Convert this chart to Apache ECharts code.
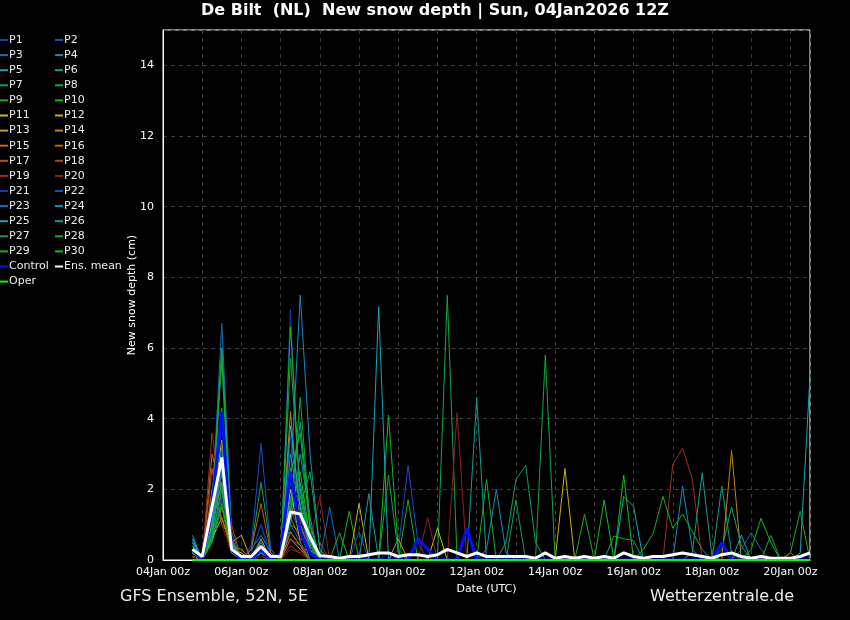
<!DOCTYPE html>
<html>
<head>
<meta charset="utf-8">
<script src="https://cdn.jsdelivr.net/npm/echarts@6/dist/echarts.min.js"></script>
<style>
  html, body { margin: 0; padding: 0; background: #000; }
  #main { width: 850px; height: 620px; }
</style>
</head>
<body>
<div id="main"></div>
<script>
// run 04Jan2026 12z, first step 04Jan 18z, 6-hourly up to 20Jan 12z (hours after 04Jan 00z)
const firstHour = 18
const stepHours = 6

// new snow depth (cm) per 6h step, 64 steps
const P1  = [0.2,0,0.8,2.4,0.3,0,0.2,1.0, 0.2,0,7.1,1.2,0.3,0,0,0, 0,0,0,0,0.2,0,0,0, 0,0,0,0,0,0,0,0, 0,0,0,0,0,0,0,0, 0,0,0,0,0,0,0,0, 0,0,0,0,0,0,0,0, 0,0,0,0,0,0,0,0]
const P2  = [0.3,0,0.5,1.8,0.2,0,0.1,0.6, 0,0,2.0,1.0,0.2,0,0,0, 0,0,0,0,0,0.3,2.68,0.5, 0,0,0,0,0,0,0,0, 0,0,0,0,0,0,0,0, 0,0,0,0,0,0,0,0, 0,0,0,0,0,0,0,0, 0,0,0,0,0,0,0,0]
const P3  = [0.4,0,1.5,6.7,0.8,0,0,0.4, 0,0,1.5,2.0,0.4,0,0,0, 0,0.2,0,0,0,0,0,0, 0,0,0,0,0,0,0,0, 0,0,0,0,0,0,0,0, 0,0,0,0,0,0,0,0, 0,0,0,0,0,0,0,0, 0,0,0,0,0,0,0,0]
const P4  = [0.7,0,0.6,2.0,0.3,0,0.3,0.7, 0.2,0,1.0,3.0,1.2,0,0,0, 0,0,0,0,0,0,0,0, 0,0,0,0,0,0,0.3,2.0, 0.2,0,0,0,0,0,0,0, 0,0,0,0,0,0,0,0, 0,0,0,0,0,0,0,0, 0,0,0,0,0,0,0,0]
const P5  = [0.5,0,1.0,6.0,0.6,0,0,0.3, 0,0,3.0,1.5,0.2,0,0,0, 0,0,0,0,0,0,0,0, 0,0,0,0,0,0,0,0, 0,0,0,0,0,0,0,0, 0,0,0,0,0,0,0,0, 0,0,0,0,0,0,0,0, 0.7,0,0,0,0,0,0,0]
const P6  = [0.6,0,0.8,3.0,0.4,0,0,0.5, 0,0,1.8,2.2,0.5,0,0,0, 0,0,0,0,0,0,0,0, 0,0,0,0,0,0,0,0, 0,0,0,0,0,0,0,0, 0,0,0,0,0,0,0,0, 0,0,0,0,0,0,2.09,0.2, 0,0,0,0,0,0,0,0]
const P7  = [0.4,0,1.2,6.0,0.5,0,0,0.3, 0,0,2.6,1.6,0.3,0,0,0, 0,0,0,0,0,0,0,0, 0,0,0,0,0,0,0,0, 0,1.7,0,0,0,0,0,0, 0,0,0,0.68,0.6,0.55,0,0, 0,0,0,0,0,0,0,0, 0,0,0,0,0,0,0,0]
const P8  = [0.3,0,1.0,2.5,0.6,0,0.3,2.2, 0.3,0,1.2,4.6,1.0,0,0,0, 0,0,0,0,0,0,0,0, 0,0,7.49,0,0,0,0,0, 0,0,0,0,0,0,0,0, 0,0,0,0,0,0,0,0, 0,0,0,0,0,0,0,0, 0,0,0,0,0,0,0,0]
const P9  = [0.2,0,1.8,5.6,0.4,0,0,0.3, 0,0,1.0,0.8,0,0,0,0, 1.38,0,0,0,0,0,1.7,0, 0,0,0,0,0,0,0,0, 0,0,0,0,0,0,0,0, 1.3,0,0,0,0,0,0,0, 0,0,0,0,0,0,0,0, 0,0,0,0,0,0.2,1.38,0]
const P10 = [0.1,0,0.5,1.5,0.2,0,0,0.2, 0,0,6.6,1.8,0.4,0,0,0, 0,0,0,0,4.1,0.3,0,0, 0,0,0,0,0,0,0,0, 0,0,0,0,0,0,0,0, 0,0,1.7,0,0,0,0,0, 0,0,0,0,0,0,0,0, 0,0,0,0,0,0,0,0]
const P11 = [0.1,0,0.6,1.2,0.3,0.2,0,0.2, 0,0,2.0,0.5,0,0,0,0, 0,0,0,0,0,0,0,0, 0,0.9,0,0,0,0,0,0, 0,0,0,0,0,0,0,0, 0,0,0,0,0,0,0,0, 0,0,0,0,0,0,0,0, 0,0,0,0,0,0,0,0]
const P12 = [0.2,0,1.4,3.4,0.5,0.7,0,0.3, 0,0,0.8,0.4,0,0,0,0, 0,1.6,0,0,0,0,0,0, 0,0,0,0,0,0,0,0, 0,0,0,0,0,0,2.59,0, 0,0,0,0,0,0,0,0, 0,0,0,0,0,0,0,0, 0,0,0,0,0,0,0,0]
const P13 = [0.1,0,1.0,2.2,0.4,0.3,0,0.6, 0,0,0.6,0.3,0,0,0,0, 0,0,0,0,0,0.6,0,0, 0,0,0,0,0,0,0,0, 0,0,0,0,0,0,0,0, 0,0,0,0,0,0,0,0, 0,0,0,0,0,0,0,0, 0,0,0,0,0,0,0,0]
const P14 = [0.2,0,1.5,3.0,0.3,0,0,0.2, 0,0,4.2,1.0,0.2,0,0,0, 0,0,0,0,0,0,0,0, 0,0,0,0,0,0,0,0, 0,0,0,0,0,0,0,0, 0,0,0,0,0,0,0,0, 0,0,0,0,0,0,0,3.1, 0,0,0,0,0,0,0,0]
const P15 = [0.2,0,3.0,2.0,0.4,0,0,0.3, 0,0,1.2,0.6,0.5,0,0,0, 0,0,0,0,0,0,0,0, 0,0,0,0,0,0,0,0, 0,0,0,0,0,0,0,0, 0,0,0,0,0,0,0,0, 0,0,0,0,0,0,0,0, 0,0,0,0,0,0,0,0]
const P16 = [0.1,0,2.0,1.2,0.3,0,0.3,1.6, 0.2,0,0.8,0.4,0,0,0,0, 0,0,0,0,0,0,0,0, 0,0,0,0,0,0,0,0, 0,0,0,0,0,0,0,0, 0,0,0,0,0,0,0,0, 0,0,0,0,0,0,0,0, 0,0,0,0,0,0.2,0,0]
const P17 = [0.2,0,2.6,1.0,0.6,0,0,0.2, 0,0,1.5,1.0,0.3,0,0,0, 0,0,0,0,0,0,0,0, 0,0,0,0,0,0,0,0, 0,0,0,0,0,0,0,0, 0,0,0,0,0,0,0,0, 0,0,0,0,0,0,0,0, 0,0,0,0,0,0,0,0]
const P18 = [0.1,0,1.2,2.5,1.0,0,0,0.3, 0,0,0.6,0.4,0.2,0.5,0,0, 0,0,0,0,0,0,0,0, 0,0,0,0,0,0,0,0, 0,0,0,0,0,0,0,0, 0,0,0,0,0,0,0,0, 0,0,0,0,0,0,0,0, 0,0,0,0,0,0,0,0]
const P19 = [0.2,0,3.6,1.5,0.5,0,0,0.2, 0,0,0.4,0.2,0,0,0,0, 0,0,0,0,0,0,0,0, 0,0,0,0,0,0,0,0, 0,0,0,0,0,0,0,0, 0,0,0,0,0,0,0,0, 0,2.7,3.17,2.28,0,0,0,0, 0,0,0,0,0,0,0,0]
const P20 = [0.1,0,0.8,1.0,0.2,0,0,0.1, 0,0,0.3,0.2,0.5,1.8,0,0, 0,0,0,0,0,0,0,0, 1.2,0,0,4.17,0,0,0,0, 0,0,0,0,0,0,0,0, 0,0,0,0,0,0,0,0, 0,0,0,0,0,0,0,0, 0,0,0,0,0,0,0,0]
const P21 = [0.3,0,1.2,3.0,0.4,0,0.2,1.0, 0,0,3.5,1.2,0.3,0,0,0, 0,0,0,0,0,0,0,0, 0,0,0,0,0,0,0,0, 0,0,0,0,0,0,0,0, 0,0,0,0,0,0,0,0, 0,0,0,0,0,0,0,0, 0,0,0,0,0,0,0,0]
const P22 = [0.2,0,0.6,2.0,0.3,0,0.4,3.3, 0.3,0,1.0,0.5,0,0,0,0, 0,0.8,0,0,0,0,0,0, 0,0,0,0,0,0,0,0, 0,0,0,0,0,0,0,0, 0,0,0,0,0,0,0,0, 0,0,0,0,0,0,0,0, 0,0,0,0,0,0,0,0]
const P23 = [0.3,0,0.8,2.6,0.4,0,0,0.5, 0,0,1.4,0.8,0.2,0,1.5,0, 0,0,0,0,0,0,0,0, 0,0,0,0,0,0,0,0, 0,0,0,0,0,0,0,0, 0,0,0,0,0,0,0,0, 0,0,0,0,0,0,0,0, 0.3,0.77,0.3,0,0,0,0,0]
const P24 = [0.5,0,0.9,3.2,0.5,0,0,0.4, 0,0,2.2,7.5,3.0,0.3,0,0, 0,0,0,0,0,0,0,0, 0,0,0,0,0,0,0,0, 0,0,0,0,0,0,0,0, 0,0,0,0,0,0,0,0, 0,0,2.09,0.3,0,0,0,0, 0,0,0,0,0,0,0,0]
const P25 = [0.6,0,1.0,4.0,0.5,0,0,0.2, 0,0,3.8,1.5,0.3,0,0,0, 0,0,0,7.17,0,0,0,0, 0,0,0,0,0,0,0,0, 0,0,0,0,0,0,0,0, 0,0,0,0,1.8,1.52,0,0, 0,0,0,0,0,0,0,0, 0,0,0,0,0,0,0.2,5.2]
const P26 = [0.4,0,0.7,2.8,0.4,0,0,0.3, 0,0,1.6,3.9,1.0,0,0,0, 0,0,1.88,0,0,0,0,0, 0,0,0,0,0,4.6,0,0, 0,0,0,0,0,0,0,0, 0,0,0,0,0,0,0,0, 0,0,0,0.2,2.47,0.1,0,0, 0,0,0,0,0,0,0,0]
const P27 = [0.2,0,0.9,2.2,0.3,0,0,0.3, 0,0,5.7,2.0,0.5,0,0,0, 0,0,0,0,0,0,0,0, 0,0,0,0,0,0,0,0, 0.5,2.28,2.68,0.5,0,0,0,0, 0,0,0,0,0,0,0,0, 0,0,0,0,0,0,0.3,1.5, 0.4,0,0,0,0,0,0,0]
const P28 = [0.3,0,1.5,4.3,0.6,0,0,0.4, 0,0,1.2,1.5,2.5,0.3,0,0, 0,0,0,0,2.4,0.2,0,0, 0,0,0,0,0,0,0,0, 0,0,0,0,5.8,0,0,0, 0,0,0,0,0,0,0,0, 0,0,0,0,0,0,0,0, 0,0,0,0.7,0,0,0,0]
const P29 = [0.2,0,0.7,2.0,0.3,0,0,0.2, 0,0,2.4,3.6,0.8,0,0,0.77, 0,0,0,0,0,0,0,0, 0,0,0,0,0,0,2.28,0, 0,0,0,0,0,0,0,0, 0,0,0,0,0,0,0.3,0.75, 1.8,0.9,1.3,0.8,0.3,0,0,0, 0,0,0,0,0,0,0,0]
const P30 = [0.3,0,0.6,1.6,0.2,0,0,0.3, 0,0,1.4,2.5,0.6,0,0,0, 0,0,0,0,0,0,0,0, 0,0,0,0,0,0,0,0, 0,0,0,0,0,0,0,0, 0,0,0,0,2.4,0,0,0, 0,0,0,0,0,0,0,0, 0,0.3,1.18,0.5,0,0,0,0]
const control = [0.3,0,1.5,4.2,0.3,0,0,0.3, 0,0.2,2.5,0.8,0.2,0,0,0, 0,0,0,0,0,0,0,0.6, 0.3,0,0,0,0.9,0,0,0, 0,0,0,0,0,0,0,0, 0,0,0,0,0,0,0,0, 0,0,0,0,0,0,0.49,0, 0,0,0,0,0,0,0,0]
const ensMean = [0.3,0.1,1.5,2.9,0.3,0.1,0.1,0.38, 0.1,0.1,1.36,1.3,0.65,0.12,0.1,0.05, 0.1,0.1,0.15,0.2,0.2,0.1,0.15,0.15, 0.1,0.15,0.3,0.2,0.1,0.2,0.1,0.1, 0.1,0.1,0.1,0.05,0.2,0.05,0.1,0.05, 0.1,0.05,0.1,0.05,0.2,0.1,0.05,0.1, 0.1,0.15,0.2,0.15,0.1,0.05,0.15,0.2, 0.1,0.05,0.1,0.05,0.05,0.05,0.1,0.2]
const oper = [0,0,0,0,0,0,0,0, 0,0,0,0,0,0,0,0, 0,0,0,0,0,0,0,0, 0,0,0,0,0,0,0,0, 0,0,0,0,0,0,0,0, 0,0,0,0,0,0,0,0, 0,0,0,0,0,0,0,0, 0,0,0,0,0,0,0,0]

const members = [P1,P2,P3,P4,P5,P6,P7,P8,P9,P10,P11,P12,P13,P14,P15,P16,P17,P18,P19,P20,P21,P22,P23,P24,P25,P26,P27,P28,P29,P30]

// colour ramp blue -> green, yellow -> red, then blue -> green again
const ramp1 = ['#1838b8','#1450c0','#1070b8','#1090c0','#10a8b8','#10a090','#10a060','#10a840','#18b020','#10c010']
const ramp2 = ['#c8c010','#c8b010','#c89818','#c88010','#c86818','#c06010','#b85020','#b04020','#a03020','#902020']
const memberColors = ramp1.concat(ramp2, ramp1)

const font = 'DejaVu Sans'

function toPairs(vals) {
  return vals.map((v, i) => [firstHour + i * stepHours, v])
}

function lineSeries(name, vals, color, width, z) {
  return {
    name: name,
    type: 'line',
    data: toPairs(vals),
    showSymbol: false,
    symbol: 'none',
    silent: true,
    z: z,
    itemStyle: {color: color},
    lineStyle: {color: color, width: width}
  }
}

const series = members.map((vals, k) => lineSeries('P' + (k + 1), vals, memberColors[k], 1, 2))
series.push(lineSeries('Control', control, '#0010ff', 3, 3))
series.push(lineSeries('Ens. mean', ensMean, '#ffffff', 3, 4))
series.push(lineSeries('Oper', oper, '#00ff00', 2, 5))

// two legend columns, row by row: P1 P2 / P3 P4 / ...
const leftNames = ['P1','P3','P5','P7','P9','P11','P13','P15','P17','P19','P21','P23','P25','P27','P29','Control','Oper']
const rightNames = ['P2','P4','P6','P8','P10','P12','P14','P16','P18','P20','P22','P24','P26','P28','P30','Ens. mean']

const legendBase = {
  orient: 'vertical',
  top: 34,
  icon: 'rect',
  itemWidth: 8,
  itemHeight: 2,
  itemGap: 3.1,
  selectedMode: false,
  padding: 0,
  textStyle: {color: '#ececec', fontSize: 11, lineHeight: 12, fontFamily: font, padding: [0, 0, 0, -4]}
}

const myChart = echarts.init(document.getElementById('main'))
const option = {
  backgroundColor: '#000',
  animation: false,
  title: {
    text: 'De Bilt  (NL)  New snow depth | Sun, 04Jan2026 12Z',
    left: 201,
    top: 3,
    padding: 0,
    textStyle: {color: '#ffffff', fontSize: 16, fontWeight: 'bold', fontFamily: font}
  },
  legend: [
    Object.assign({}, legendBase, {left: 0, data: leftNames}),
    Object.assign({}, legendBase, {left: 55, data: rightNames})
  ],
  grid: {
    left: 163, top: 30, right: 40, bottom: 60,
    show: true, borderColor: '#ffffff', borderWidth: 1
  },
  xAxis: {
    type: 'value',
    min: 0,
    max: 396,
    interval: 24,
    name: 'Date (UTC)',
    nameLocation: 'middle',
    nameGap: 24,
    nameMoveOverlap: false,
    nameTextStyle: {color: '#ffffff', fontSize: 11, fontFamily: font},
    axisLine: {show: true, lineStyle: {color: '#ffffff'}},
    axisTick: {show: false},
    axisLabel: {
      color: '#ffffff', fontSize: 11, fontFamily: font, margin: 7,
      showMaxLabel: false,
      formatter: function (v) {
        if (v % 48 !== 0) return ''
        const d = 4 + v / 24
        return (d < 10 ? '0' + d : d) + 'Jan 00z'
      }
    },
    splitLine: {show: true, lineStyle: {color: '#3c3c3c', type: [4, 4], width: 1}}
  },
  yAxis: {
    type: 'value',
    min: 0,
    max: 15,
    interval: 2,
    name: 'New snow depth (cm)',
    nameLocation: 'middle',
    nameGap: 25,
    nameMoveOverlap: false,
    nameTextStyle: {color: '#ffffff', fontSize: 11, fontFamily: font},
    axisLine: {show: true, lineStyle: {color: '#ffffff'}},
    axisTick: {show: false},
    axisLabel: {
      color: '#ffffff', fontSize: 11, fontFamily: font, margin: 9,
      formatter: function (v) { return v % 2 === 0 ? String(v) : '' }
    },
    splitLine: {show: true, lineStyle: {color: '#3c3c3c', type: [4, 4], width: 1}}
  },
  graphic: [
    {type: 'text', left: 120, top: 589, style: {text: 'GFS Ensemble, 52N, 5E', fill: '#ececec', font: '16px "DejaVu Sans"'}},
    {type: 'text', left: 650, top: 589, style: {text: 'Wetterzentrale.de', fill: '#ececec', font: '16px "DejaVu Sans"'}}
  ],
  series: series
}
myChart.setOption(option)
</script>
</body>
</html>
